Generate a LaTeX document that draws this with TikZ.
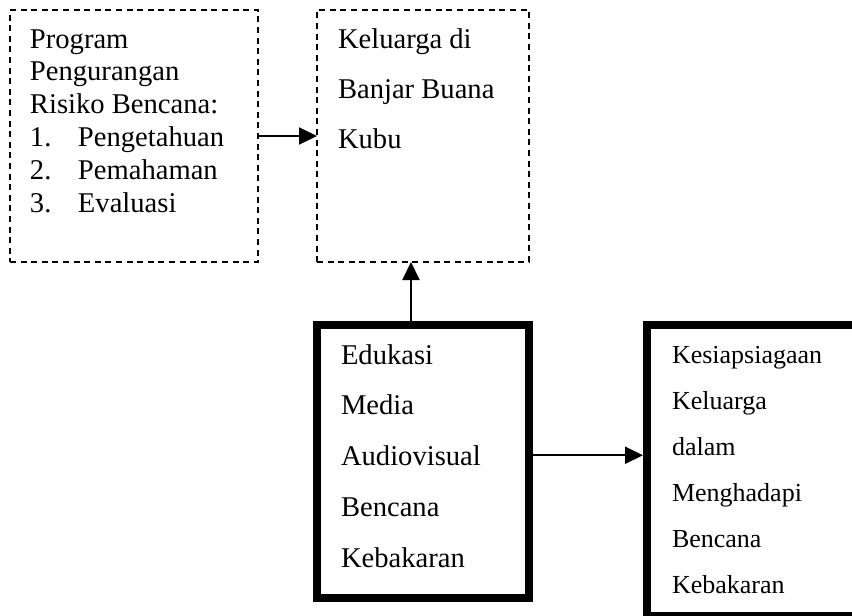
\documentclass[tikz,border=0pt]{standalone}
\usepackage{fontspec}
\setmainfont{Liberation Serif}
\usetikzlibrary{arrows.meta, positioning}

% text block of a box: width, height, top to first baseline, lines
\newcommand{\boxtext}[4]{\parbox[t][#2][t]{#1}{\rule{0pt}{#3}#4}}
\newcommand{\numitem}[1]{\makebox[24pt][l]{#1}}

\begin{document}
\begin{tikzpicture}[
            > = {Triangle[length=9pt, width=8.5pt]}, % arrow head style
            line width = 1pt % line style
        ]

        \tikzstyle{every node}=[
            rectangle,
            outer sep = 0pt,
            inner ysep = 0pt
        ]
        \tikzstyle{dbox}=[
            draw = black,
            line width = 0.9pt,
            dash pattern = on 3pt off 2.3pt,
            font = \fontsize{14.3pt}{16.4pt}\selectfont
        ]
        \tikzstyle{tbox}=[
            draw = black,
            line width = 4pt
        ]

        \useasboundingbox (0,0) rectangle (426pt,-308pt);

        \node[dbox, anchor=north west, inner xsep=10pt] (prog) at (5pt,-5pt)
            {\boxtext{104pt}{126pt}{19pt}{Program\\Pengurangan\\Risiko Bencana:\\
            \numitem{1.}Pengetahuan\\\numitem{2.}Pemahaman\\\numitem{3.}Evaluasi}};
        \node[dbox, inner xsep=10.5pt, font=\fontsize{14.3pt}{25pt}\selectfont] (kel) [right=29.5pt of prog]
            {\boxtext{85pt}{126pt}{19pt}{Keluarga di\\Banjar Buana\\Kubu}};
        \node[tbox, inner xsep=12pt, font=\fontsize{14.3pt}{25.4pt}\selectfont] (edu) [below=31.25pt of kel]
            {\boxtext{82pt}{136.75pt}{19.75pt}{Edukasi\\Media\\Audiovisual\\Bencana\\Kebakaran}};
        \node[tbox, inner xsep=12.5pt, font=\fontsize{13pt}{23pt}\selectfont] (siap) [right=59pt of edu.north east, anchor=north west]
            {\boxtext{83.5pt}{145.75pt}{19.25pt}{Kesiapsiagaan\\Keluarga\\dalam\\Menghadapi\\Bencana\\Kebakaran}};

        \draw[->] (prog) -- (kel);
        \draw[->] ([xshift=-6pt]edu.north) -- ([xshift=-6pt]kel.south);
        \draw[->, shorten >=2pt] ([yshift=3pt]edu.east) -- ([yshift=3pt]edu.east -| siap.west);

\end{tikzpicture}
\end{document}
